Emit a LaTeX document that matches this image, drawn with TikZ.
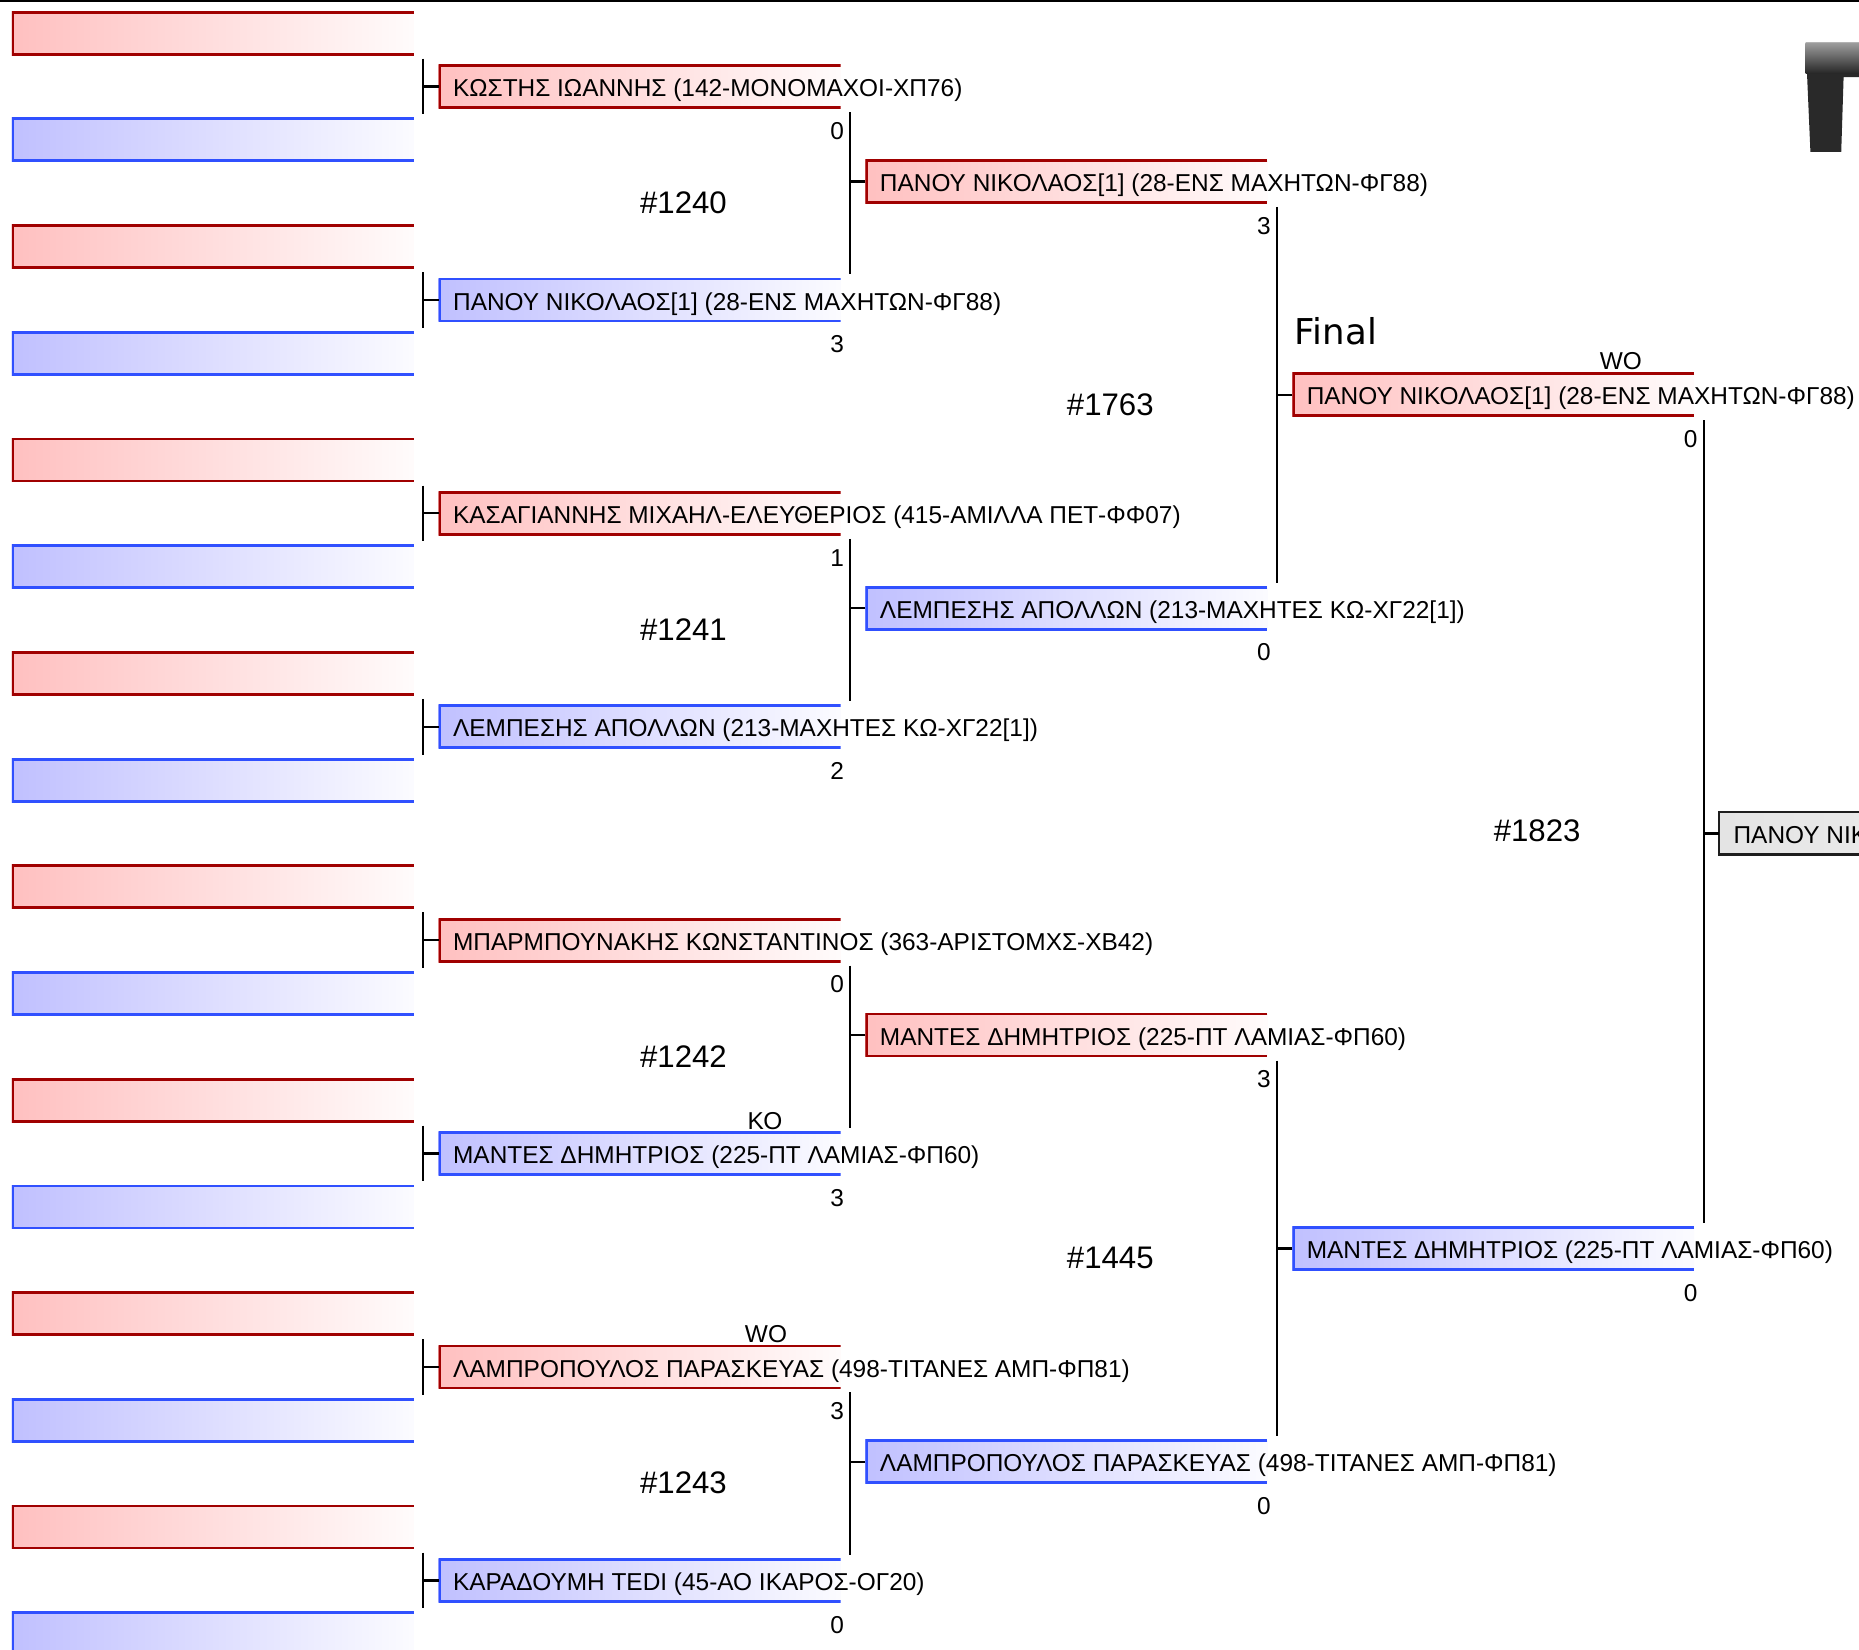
\documentclass[tikz,border=0pt]{standalone}
\usepackage{fontspec}
\setmainfont{Liberation Sans}
\newfontfamily\dejavu{DejaVu Sans}
\usepackage{tikz}
\usetikzlibrary{calc,positioning}
\definecolor{slotred}{RGB}{160,0,0}
\definecolor{slotredfill}{RGB}{255,192,192}
\definecolor{slotblue}{RGB}{48,80,255}
\definecolor{slotbluefill}{RGB}{192,192,255}
\definecolor{slotgray}{RGB}{30,30,30}
\definecolor{slotgrayfill}{RGB}{228,228,228}
\newcommand{\namefont}{\fontsize{20.6}{24}\selectfont}
\newcommand{\matchfont}{\fontsize{26.3}{30}\selectfont}
\newcommand{\finalfont}{\dejavu\fontsize{30}{34}\selectfont}
\tikzset{
  slot/.style 2 args={minimum width=339pt, minimum height=37pt, inner sep=0pt, outer sep=0pt,
    left color=#2, right color=#2!6,
    path picture={\draw[#1, line width=4pt]
      (path picture bounding box.north east) -- (path picture bounding box.north west)
      -- (path picture bounding box.south west) -- (path picture bounding box.south east);}},
  redslot/.style={slot={slotred}{slotredfill}},
  blueslot/.style={slot={slotblue}{slotbluefill}},
  grayslot/.style={minimum width=339pt, minimum height=36pt, inner sep=0pt, outer sep=0pt,
    draw=slotgray, line width=2.3pt, left color=slotgrayfill, right color=slotgrayfill!50},
  who/.style={font=\namefont, inner sep=0pt, anchor=base west},
  score/.style={font=\namefont, inner sep=0pt, anchor=base east},
  tag/.style={font=\namefont, inner sep=0pt, anchor=base east},
  matchno/.style={font=\matchfont, inner sep=0pt},
  joinline/.style={line width=1.9pt, shorten <=3pt, shorten >=3pt},
  stub/.style={line width=1.9pt},
}
\begin{document}
\begin{tikzpicture}[x=1pt, y=-1pt]
  \useasboundingbox (0,0) rectangle (1568,1391);
  \clip (0,0) rectangle (1568,1391);
  \draw[line width=1.9pt] (0,0.8) -- (1568,0.8);

  %% Round 1: empty slots
  \foreach \k in {0,...,7}{
    \node[redslot] (ea\k) at (179.5,28+180*\k) {};
    \node[blueslot] (eb\k) at (179.5,118+180*\k) {};
    \draw[joinline] ([xshift=8pt]ea\k.south east) coordinate (v\k) -- ([xshift=8pt]eb\k.north east);
  }

  %% Round 2
  \node[redslot] (kostis) at (539.5,73) {};
  \node[who] (t-kostis) at ([shift={(12pt,-8.5pt)}]kostis.west) {ΚΩΣΤΗΣ ΙΩΑΝΝΗΣ (142-ΜΟΝΟΜΑΧΟΙ-ΧΠ76)};
  \node[score] (s-kostis) at ([shift={(3pt,-26pt)}]kostis.south east) {0};

  \node[blueslot] (panou2) at (539.5,253) {};
  \node[who] (t-panou2) at ([shift={(12pt,-8.5pt)}]panou2.west) {ΠΑΝΟΥ ΝΙΚΟΛΑΟΣ[1] (28-ΕΝΣ ΜΑΧΗΤΩΝ-ΦΓ88)};
  \node[score] (s-panou2) at ([shift={(3pt,-26pt)}]panou2.south east) {3};

  \node[redslot] (kasag) at (539.5,433) {};
  \node[who] (t-kasag) at ([shift={(12pt,-8.5pt)}]kasag.west) {ΚΑΣΑΓΙΑΝΝΗΣ ΜΙΧΑΗΛ-ΕΛΕΥΘΕΡΙΟΣ (415-ΑΜΙΛΛΑ ΠΕΤ-ΦΦ07)};
  \node[score] (s-kasag) at ([shift={(3pt,-26pt)}]kasag.south east) {1};

  \node[blueslot] (lemb2) at (539.5,613) {};
  \node[who] (t-lemb2) at ([shift={(12pt,-8.5pt)}]lemb2.west) {ΛΕΜΠΕΣΗΣ ΑΠΟΛΛΩΝ (213-ΜΑΧΗΤΕΣ ΚΩ-ΧΓ22[1])};
  \node[score] (s-lemb2) at ([shift={(3pt,-26pt)}]lemb2.south east) {2};

  \node[redslot] (barb) at (539.5,793) {};
  \node[who] (t-barb) at ([shift={(12pt,-8.5pt)}]barb.west) {ΜΠΑΡΜΠΟΥΝΑΚΗΣ ΚΩΝΣΤΑΝΤΙΝΟΣ (363-ΑΡΙΣΤΟΜΧΣ-ΧΒ42)};
  \node[score] (s-barb) at ([shift={(3pt,-26pt)}]barb.south east) {0};

  \node[blueslot] (mant2) at (539.5,973) {};
  \node[who] (t-mant2) at ([shift={(12pt,-8.5pt)}]mant2.west) {ΜΑΝΤΕΣ ΔΗΜΗΤΡΙΟΣ (225-ΠΤ ΛΑΜΙΑΣ-ΦΠ60)};
  \node[score] (s-mant2) at ([shift={(3pt,-26pt)}]mant2.south east) {3};
  \node[tag] (ko) at ([shift={(-49pt,2pt)}]mant2.north east) {ΚΟ};

  \node[redslot] (lamp2) at (539.5,1153) {};
  \node[who] (t-lamp2) at ([shift={(12pt,-8.5pt)}]lamp2.west) {ΛΑΜΠΡΟΠΟΥΛΟΣ ΠΑΡΑΣΚΕΥΑΣ (498-ΤΙΤΑΝΕΣ ΑΜΠ-ΦΠ81)};
  \node[score] (s-lamp2) at ([shift={(3pt,-26pt)}]lamp2.south east) {3};
  \node[tag] (wo2) at ([shift={(-45pt,2pt)}]lamp2.north east) {WO};

  \node[blueslot] (karad) at (539.5,1333) {};
  \node[who] (t-karad) at ([shift={(12pt,-8.5pt)}]karad.west) {ΚΑΡΑΔΟΥΜΗ TEDI (45-ΑΟ ΙΚΑΡΟΣ-ΟΓ20)};
  \node[score] (s-karad) at ([shift={(3pt,-26pt)}]karad.south east) {0};

  \foreach \k/\n in {0/kostis,1/panou2,2/kasag,3/lemb2,4/barb,5/mant2,6/lamp2,7/karad}
    \draw[stub] (\n.west) -- (\n.west -| v\k);

  %% Round 3
  \node[redslot] (panou3) at (899.5,153) {};
  \node[who] (t-panou3) at ([shift={(12pt,-8.5pt)}]panou3.west) {ΠΑΝΟΥ ΝΙΚΟΛΑΟΣ[1] (28-ΕΝΣ ΜΑΧΗΤΩΝ-ΦΓ88)};
  \node[score] (s-panou3) at ([shift={(3pt,-26pt)}]panou3.south east) {3};

  \node[blueslot] (lemb3) at (899.5,513) {};
  \node[who] (t-lemb3) at ([shift={(12pt,-8.5pt)}]lemb3.west) {ΛΕΜΠΕΣΗΣ ΑΠΟΛΛΩΝ (213-ΜΑΧΗΤΕΣ ΚΩ-ΧΓ22[1])};
  \node[score] (s-lemb3) at ([shift={(3pt,-26pt)}]lemb3.south east) {0};

  \node[redslot] (mant3) at (899.5,873) {};
  \node[who] (t-mant3) at ([shift={(12pt,-8.5pt)}]mant3.west) {ΜΑΝΤΕΣ ΔΗΜΗΤΡΙΟΣ (225-ΠΤ ΛΑΜΙΑΣ-ΦΠ60)};
  \node[score] (s-mant3) at ([shift={(3pt,-26pt)}]mant3.south east) {3};

  \node[blueslot] (lamp3) at (899.5,1233) {};
  \node[who] (t-lamp3) at ([shift={(12pt,-8.5pt)}]lamp3.west) {ΛΑΜΠΡΟΠΟΥΛΟΣ ΠΑΡΑΣΚΕΥΑΣ (498-ΤΙΤΑΝΕΣ ΑΜΠ-ΦΠ81)};
  \node[score] (s-lamp3) at ([shift={(3pt,-26pt)}]lamp3.south east) {0};

  \draw[joinline] ([xshift=8pt]kostis.south east) coordinate (w0) -- ([xshift=8pt]panou2.north east);
  \draw[joinline] ([xshift=8pt]kasag.south east) coordinate (w1) -- ([xshift=8pt]lemb2.north east);
  \draw[joinline] ([xshift=8pt]barb.south east) coordinate (w2) -- ([xshift=8pt]mant2.north east);
  \draw[joinline] ([xshift=8pt]lamp2.south east) coordinate (w3) -- ([xshift=8pt]karad.north east);
  \draw[stub] (panou3.west) -- (panou3.west -| w0);
  \draw[stub] (lemb3.west) -- (lemb3.west -| w1);
  \draw[stub] (mant3.west) -- (mant3.west -| w2);
  \draw[stub] (lamp3.west) -- (lamp3.west -| w3);

  \node[matchno] (m1240) at ($(kostis)!0.5!(panou2)+(37pt,-8pt)$) {\#1240};
  \node[matchno] (m1241) at ($(kasag)!0.5!(lemb2)+(37pt,-8pt)$) {\#1241};
  \node[matchno] (m1242) at ($(barb)!0.5!(mant2)+(37pt,-8pt)$) {\#1242};
  \node[matchno] (m1243) at ($(lamp2)!0.5!(karad)+(37pt,-8pt)$) {\#1243};

  %% Round 4
  \node[redslot] (panou4) at (1259.5,333) {};
  \node[who] (t-panou4) at ([shift={(12pt,-8.5pt)}]panou4.west) {ΠΑΝΟΥ ΝΙΚΟΛΑΟΣ[1] (28-ΕΝΣ ΜΑΧΗΤΩΝ-ΦΓ88)};
  \node[score] (s-panou4) at ([shift={(3pt,-26pt)}]panou4.south east) {0};
  \node[tag] (wo4) at ([shift={(-44pt,3pt)}]panou4.north east) {WO};
  \node[font=\finalfont, inner sep=0pt, anchor=base west] (final) at ([shift={(2pt,24pt)}]panou4.north west) {Final};

  \node[blueslot] (mant4) at (1259.5,1053) {};
  \node[who] (t-mant4) at ([shift={(12pt,-8.5pt)}]mant4.west) {ΜΑΝΤΕΣ ΔΗΜΗΤΡΙΟΣ (225-ΠΤ ΛΑΜΙΑΣ-ΦΠ60)};
  \node[score] (s-mant4) at ([shift={(3pt,-26pt)}]mant4.south east) {0};

  \draw[joinline] ([xshift=8pt]panou3.south east) coordinate (u0) -- ([xshift=8pt]lemb3.north east);
  \draw[joinline] ([xshift=8pt]mant3.south east) coordinate (u1) -- ([xshift=8pt]lamp3.north east);
  \draw[stub] (panou4.west) -- (panou4.west -| u0);
  \draw[stub] (mant4.west) -- (mant4.west -| u1);

  \node[matchno] (m1763) at ($(panou3)!0.5!(lemb3)+(37pt,-8pt)$) {\#1763};
  \node[matchno] (m1445) at ($(mant3)!0.5!(lamp3)+(37pt,-8pt)$) {\#1445};

  %% Winner
  \node[grayslot] (panou5) at (1619.5,703) {};
  \node[who] (t-panou5) at ([shift={(12pt,-8.5pt)}]panou5.west) {ΠΑΝΟΥ ΝΙΚΟΛΑΟΣ[1] (28-ΕΝΣ ΜΑΧΗΤΩΝ-ΦΓ88)};
  \draw[joinline] ([xshift=8pt]panou4.south east) coordinate (f0) -- ([xshift=8pt]mant4.north east);
  \draw[stub] (panou5.west) -- (panou5.west -| f0);
  \node[matchno] (m1823) at ($(panou4)!0.5!(mant4)+(37pt,-8pt)$) {\#1823};

  %% Logo corner
  \fill[black!84] (1523,36) -- (1568,36) -- (1568,65) -- (1555,65) -- (1553,128) -- (1527,128) -- cycle;
  \shade[top color=black!40, bottom color=black!85] (1523,37) rectangle (1568,62);
\end{tikzpicture}
\end{document}
